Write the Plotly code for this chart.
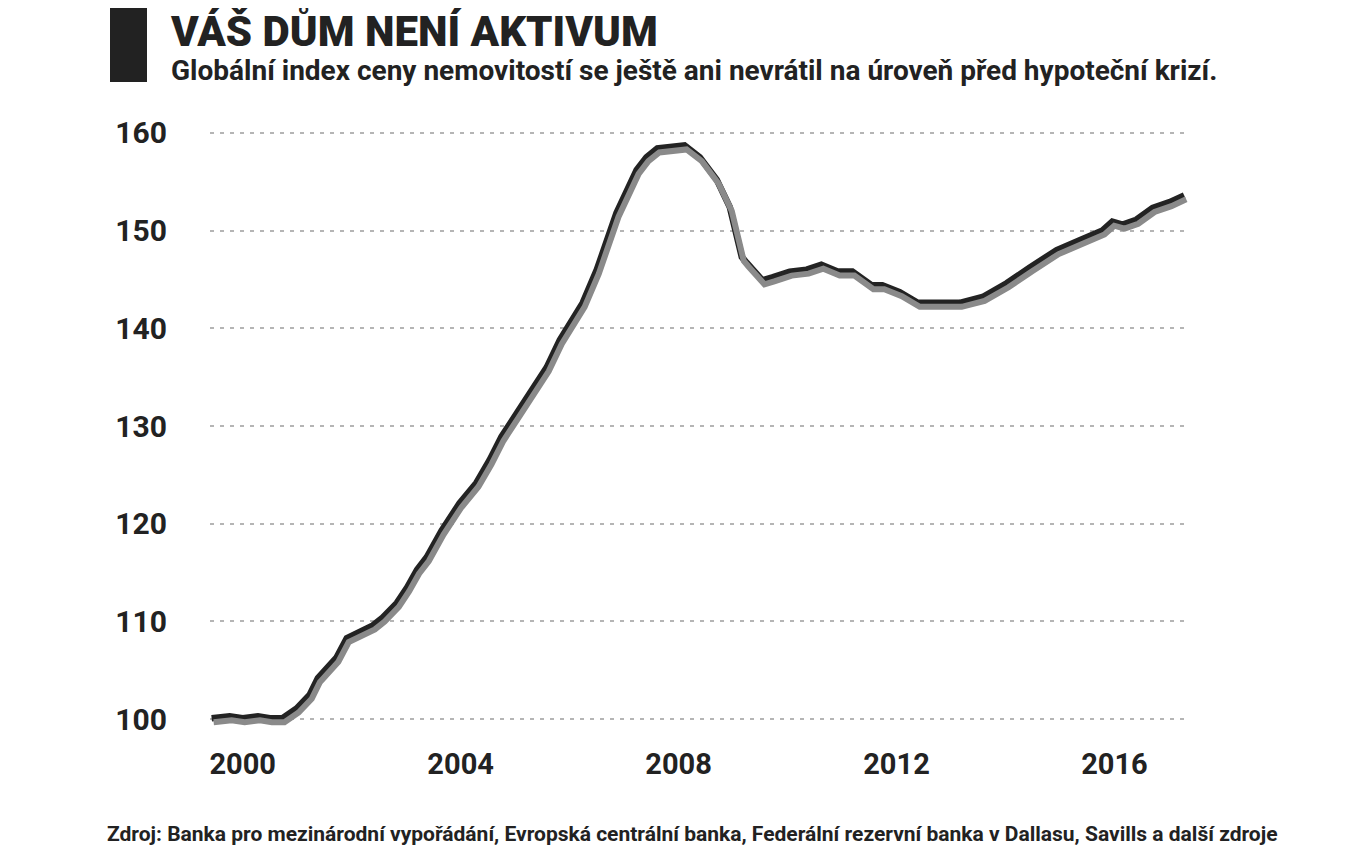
import plotly.graph_objects as go

# Data (approximate)
years = [1999.43, 1999.76, 2000.00, 2000.28, 2000.50, 2000.73, 2000.99, 2001.23, 2001.38,
         2001.56, 2001.72, 2001.91, 2002.15, 2002.39, 2002.57, 2002.83, 2003.02, 2003.20,
         2003.38, 2003.65, 2003.98, 2004.29, 2004.53, 2004.75, 2005.03, 2005.32, 2005.58,
         2005.82, 2006.24, 2006.50, 2006.86, 2007.23, 2007.41, 2007.61, 2008.11, 2008.39,
         2008.70, 2008.94, 2009.16, 2009.25, 2009.54, 2009.72, 2010.04, 2010.35, 2010.62,
         2010.92, 2011.19, 2011.54, 2011.74, 2012.06, 2012.39, 2012.75, 2013.16, 2013.58,
         2014.02, 2014.44, 2014.94, 2015.36, 2015.78, 2015.96, 2016.15, 2016.40, 2016.70,
         2017.01, 2017.28]
index_values = [100.1, 100.3, 100.1, 100.3, 100.1, 100.1, 101.1, 102.5, 104.2,
                105.2, 106.3, 108.3, 108.9, 109.6, 110.4, 111.9, 113.5, 115.3,
                116.6, 119.3, 122.1, 124.2, 126.5, 128.9, 131.3, 133.7, 136.0,
                138.8, 142.6, 146.0, 151.8, 156.2, 157.5, 158.4, 158.7, 157.5,
                155.2, 152.4, 147.3, 146.7, 144.9, 145.2, 145.8, 146.0, 146.5,
                145.8, 145.8, 144.4, 144.4, 143.7, 142.6, 142.6, 142.6, 143.2,
                144.6, 146.2, 148.0, 149.0, 150.0, 150.9, 150.6, 151.1, 152.3,
                152.9, 153.6]

y_ticks = [100, 110, 120, 130, 140, 150, 160]
x_ticks = [2000, 2004, 2008, 2012, 2016]
x_tick_labels = ["2000", "2004", "2008", "2012", "2016"]

title_text = "VÁŠ DŮM NENÍ AKTIVUM"
subtitle_text = "Globální index ceny nemovitostí se ještě ani nevrátil na úroveň před hypoteční krizí."
source_text = ("Zdroj: Banka pro mezinárodní vypořádání, Evropská centrální banka, "
               "Federální rezervní banka v Dallasu, Savills a další zdroje")

# page body adds an 8px offset; figure drawn 8px smaller and shifted
OFF = 8
W, H = 1346 - OFF, 850 - OFF
ML, MR, MT, MB = 210 - OFF, 158, 123 - OFF, 121
x_range = [1999.40, 2017.35]
y_range = [99, 161]

plot_w = W - ML - MR
plot_h = H - MT - MB
dx = 2 * (x_range[1] - x_range[0]) / plot_w
dy = 4 * (y_range[1] - y_range[0]) / plot_h


def px(xr):
    return (xr - OFF - ML) / plot_w


def py(yr):
    return (H - MB - (yr - OFF)) / plot_h


fig = go.Figure()
fig.add_trace(go.Scatter(x=years, y=index_values, mode="lines",
                         line=dict(color="#8a8a8a", width=6),
                         xaxis="x2", yaxis="y2", hoverinfo="skip", showlegend=False))
fig.add_trace(go.Scatter(x=years, y=index_values, mode="lines",
                         line=dict(color="#232323", width=6.5),
                         showlegend=False))

font_family = "Roboto"
fig.update_layout(
    width=W, height=H,
    margin=dict(l=ML, r=MR, t=MT, b=MB, autoexpand=False),
    paper_bgcolor="white", plot_bgcolor="white",
    xaxis=dict(range=x_range, tickvals=x_ticks, ticktext=x_tick_labels,
               showgrid=False, zeroline=False, showline=False, ticks="",
               tickfont=dict(family=font_family, size=29, color="#222", weight=700),
               ticklabelstandoff=15, fixedrange=True),
    yaxis=dict(range=y_range, tickvals=y_ticks, showgrid=True,
               gridcolor="#b5b5b5", gridwidth=1.6, griddash="4px,6px",
               zeroline=False, showline=False, ticks="",
               tickfont=dict(family=font_family, size=30, color="#222", weight=700),
               ticklabelstandoff=42, fixedrange=True),
    xaxis2=dict(range=[x_range[0] - dx, x_range[1] - dx], overlaying="x",
                visible=False, fixedrange=True),
    yaxis2=dict(range=[y_range[0] + dy, y_range[1] + dy], overlaying="y",
                visible=False, fixedrange=True),
    shapes=[dict(type="rect", xref="paper", yref="paper",
                 x0=px(110), x1=px(147), y0=py(82), y1=py(8),
                 fillcolor="#222", line=dict(width=0), layer="above")],
    annotations=[
        dict(text=title_text, xref="paper", yref="paper",
             x=px(168), y=py(3), xanchor="left", yanchor="top", showarrow=False,
             font=dict(family=font_family, size=42, color="#222", weight=900)),
        dict(text=subtitle_text, xref="paper", yref="paper",
             x=px(169), y=py(52), xanchor="left", yanchor="top", showarrow=False,
             font=dict(family=font_family, size=28, color="#222", weight=700)),
        dict(text=source_text, xref="paper", yref="paper",
             x=px(105), y=py(820), xanchor="left", yanchor="top", showarrow=False,
             font=dict(family=font_family, size=21, color="#222", weight=700)),
    ],
)

fig.write_html("out.html")
